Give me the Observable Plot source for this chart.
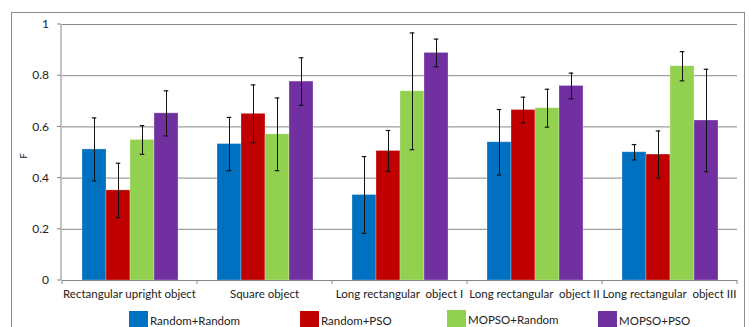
<!DOCTYPE html>
<html>
<head>
<meta charset="utf-8">
<script src="https://cdn.jsdelivr.net/npm/d3@7"></script>
<script src="https://cdn.jsdelivr.net/npm/@observablehq/plot@0.6"></script>
<style>
  html, body { margin: 0; padding: 0; background: #fff; }
  #wrap { position: relative; width: 749px; height: 327px; overflow: hidden; font-family: Lato, "Open Sans", sans-serif; }
  #frame { position: absolute; left: 11px; top: 12px; width: 734px; height: 330px; border: 1px solid #8c8c8c; box-sizing: border-box; pointer-events: none; }
  .lg { position: absolute; display: flex; align-items: flex-start; font-size: 11.5px; line-height: 13px; color: #222; }
  .lg .sw { width: 19px; height: 18px; margin-right: 2px; }
  .lg span { padding-top: 3px; }
</style>
</head>
<body>
<div id="wrap"><div id="frame"></div></div>
<script>
const categories = ["Rectangular upright object", "Square object", "Long rectangular  object I", "Long rectangular  object II", "Long rectangular  object III"];
const seriesNames = ["Random+Random", "Random+PSO", "MOPSO+Random", "MOPSO+PSO"];
const seriesColors = ["#0070C0", "#C00000", "#92D050", "#7030A0"];
// mean F per category, one array per series
const randomRandom = [0.512, 0.533, 0.334, 0.540, 0.501];
const randomPSO    = [0.352, 0.651, 0.506, 0.666, 0.492];
const mopsoRandom  = [0.549, 0.571, 0.739, 0.673, 0.837];
const mopsoPSO     = [0.653, 0.777, 0.889, 0.760, 0.625];
// error bar half-widths
const errRandomRandom = [0.123, 0.104, 0.150, 0.128, 0.030];
const errRandomPSO    = [0.106, 0.113, 0.080, 0.050, 0.092];
const errMopsoRandom  = [0.056, 0.142, 0.228, 0.074, 0.057];
const errMopsoPSO     = [0.088, 0.093, 0.054, 0.050, 0.200];
const yTicks = [0, 0.2, 0.4, 0.6, 0.8, 1];

const means = [randomRandom, randomPSO, mopsoRandom, mopsoPSO];
const errs = [errRandomRandom, errRandomPSO, errMopsoRandom, errMopsoPSO];
const rows = [];
categories.forEach((c, i) => seriesNames.forEach((s, j) => rows.push({
  cat: c, series: s, v: means[j][i], lo: means[j][i] - errs[j][i], hi: means[j][i] + errs[j][i]
})));

const W = 749, H = 327;
const capHalf = 2.5;
const xPad = 0.755;
const fontFam = "Lato, 'Open Sans', sans-serif";

const chart = Plot.plot({
  width: W, height: H,
  marginTop: 24, marginBottom: 47, marginLeft: 61, marginRight: 12,
  style: { fontFamily: fontFam, fontSize: "11.5px", color: "#222", background: "transparent" },
  fx: { domain: categories, padding: 0, label: null, axis: null },
  x: { domain: seriesNames, paddingInner: 0, paddingOuter: xPad, axis: null },
  y: { domain: [0, 1], ticks: yTicks, label: null, axis: null },
  color: { domain: seriesNames, range: seriesColors },
  marks: [
    Plot.gridY(yTicks.filter(d => d > 0), { stroke: "#868686", strokeOpacity: 1, strokeWidth: 1 }),
    Plot.barY(rows, { fx: "cat", x: "series", y: "v", fill: "series", stroke: "#ffffff", strokeOpacity: 0.35, strokeWidth: 0.8 }),
    Plot.ruleX(rows, { fx: "cat", x: "series", y1: "lo", y2: "hi", stroke: "#111", strokeWidth: 1 }),
    Plot.tickY(rows, { fx: "cat", x: "series", y: "lo", stroke: "#111", strokeWidth: 1.2, insetLeft: 24.5/2 - capHalf, insetRight: 24.5/2 - capHalf }),
    Plot.tickY(rows, { fx: "cat", x: "series", y: "hi", stroke: "#111", strokeWidth: 1.2, insetLeft: 24.5/2 - capHalf, insetRight: 24.5/2 - capHalf }),
    Plot.ruleY([0], { stroke: "#868686", strokeWidth: 1 })
  ]
});

const svg = d3.select(chart);
const ys = chart.scale("y");
const fxs = chart.scale("fx");
const g = svg.append("g").attr("class", "axes-extra");
const axisX = 61;
// y axis line and ticks
g.append("line").attr("x1", axisX).attr("x2", axisX).attr("y1", ys.apply(0)).attr("y2", ys.apply(1)).attr("stroke", "#868686");
yTicks.forEach(t => {
  const y = ys.apply(t);
  g.append("line").attr("x1", axisX - 4).attr("x2", axisX).attr("y1", y).attr("y2", y).attr("stroke", "#868686");
  g.append("text").attr("x", axisX - 12).attr("y", y).attr("dy", "0.35em").attr("text-anchor", "end")
    .attr("font-size", "12px").attr("fill", "#222").text(String(t));
});
// category boundary ticks and labels
const y0 = ys.apply(0);
categories.forEach((c, i) => {
  const left = fxs.apply(c);
  const bw = fxs.bandwidth;
  g.append("line").attr("x1", left).attr("x2", left).attr("y1", y0).attr("y2", y0 + 4).attr("stroke", "#868686");
  if (i === categories.length - 1) g.append("line").attr("x1", left + bw).attr("x2", left + bw).attr("y1", y0).attr("y2", y0 + 4).attr("stroke", "#868686");
  g.append("text").attr("x", left + bw / 2).attr("y", y0 + 18).attr("text-anchor", "middle")
    .attr("font-size", "11.5px").attr("fill", "#222").attr("xml:space", "preserve").style("white-space", "pre").text(c);
});
// y label
g.append("text").attr("transform", `translate(27,${(ys.apply(0) + ys.apply(1)) / 2 + 4}) rotate(-90)`)
  .attr("text-anchor", "middle").attr("font-size", "10px").attr("fill", "#222").text("F");

chart.style.position = "absolute";
chart.style.left = "0px";
chart.style.top = "0px";
const wrap = document.getElementById("wrap");
wrap.insertBefore(chart, wrap.firstChild);

// legend
const legendLeft = [129, 300, 447, 598];
const legendTop = [311, 311, 310, 311];
seriesNames.forEach((s, j) => {
  const d = document.createElement("div");
  d.className = "lg";
  d.style.left = legendLeft[j] + "px";
  d.style.top = legendTop[j] + "px";
  const sw = document.createElement("div");
  sw.className = "sw";
  sw.style.background = seriesColors[j];
  const t = document.createElement("span");
  t.textContent = s;
  d.appendChild(sw); d.appendChild(t);
  wrap.appendChild(d);
});
</script>
</body>
</html>
